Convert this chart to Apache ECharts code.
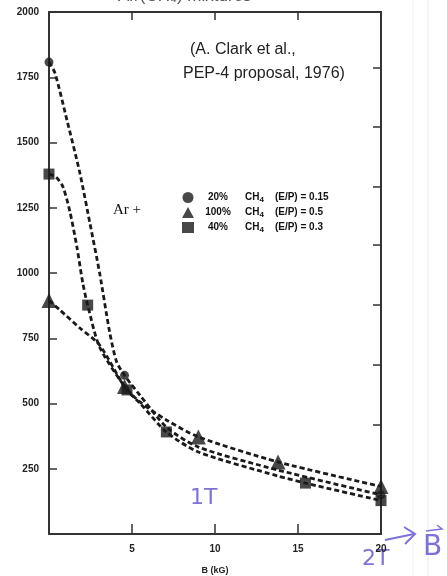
<!DOCTYPE html>
<html>
<head>
<meta charset="utf-8">
<script src="https://cdn.jsdelivr.net/npm/echarts@6/dist/echarts.min.js"></script>
<style>html,body{margin:0;padding:0;background:#fff}#c{width:447px;height:576px}</style>
</head>
<body>
<div id="c"></div>
<script>
// ---- data ----
const xTicks = [5, 10, 15, 20];
const yTickLabels = [250, 500, 750, 1000, 1250, 1500, 1750, 2000];
const rightTicks = [418, 648, 877, 1107, 1330, 1559, 1785];

const seriesNames = ['20% CH4', '100% CH4', '40% CH4'];
const epValues = ['0.15', '0.5', '0.3'];
const percents = ['20%', '100%', '40%'];

// measured marker positions
const circlePts = [[0, 1808], [4.55, 608], [20, 150]];
const trianglePts = [[0, 895], [4.55, 565], [9, 372], [13.8, 276], [20, 182]];
const squarePts = [[0, 1379], [2.33, 877], [4.7, 552], [7.07, 391], [15.45, 195], [20, 128]];

// points
const circleCurve = [[0, 1808], [0.36, 1766], [1.08, 1586], [1.86, 1383], [2.46, 1192], [3.05, 1000], [3.65, 775], [4.07, 660], [4.55, 608], [5.5, 530], [7.07, 410], [9, 333], [13.8, 245], [20, 150]];
const triangleCurve = [[0, 895], [0.66, 858], [1.86, 789], [3.05, 724], [4.55, 565], [5.5, 505], [7.07, 437], [9, 372], [13.8, 276], [20, 182]];
const squareCurve = [[0, 1379], [0.42, 1368], [0.84, 1330], [1.26, 1235], [1.68, 1100], [2.04, 960], [2.33, 877], [3.05, 716], [4.7, 552], [5.5, 500], [7.07, 391], [9, 314], [13.8, 222], [15.45, 195], [20, 128]];

const ink = '#1a1a1a';
const purple = '#7d72d9';

const chart = echarts.init(document.getElementById('c'));

function curve(name, data) {
  return {
    name: name, type: 'line', data: data, smooth: 0.25, symbol: 'none',
    lineStyle: { color: ink, width: 2.8, type: [5, 3] }, z: 3, clip: false,
    xAxisIndex: 0, yAxisIndex: 0
  };
}
function marks(name, data, symbol, size) {
  return {
    name: name, type: 'scatter', data: data, symbol: symbol, symbolSize: size,
    itemStyle: { color: ink }, z: 5, clip: false, xAxisIndex: 0, yAxisIndex: 0
  };
}

const frameLine = { show: true, onZero: false, lineStyle: { color: '#333', width: 2 } };
const tickStyle = { color: '#333', width: 1.5 };
const labelFont = { fontSize: 10, fontWeight: 'bold', color: '#222', fontFamily: 'Liberation Sans' };

chart.setOption({
  animation: false,
  backgroundColor: '#fff',
  grid: { left: 49, right: 66, top: 12, bottom: 42, outerBoundsMode: 'none', containLabel: false },
  xAxis: [{
    type: 'value', min: 0, max: 20, interval: 5,
    name: 'B (kG)', nameLocation: 'middle', nameGap: 32,
    nameTextStyle: { fontSize: 9, fontWeight: 'bold', color: '#222', fontFamily: 'Liberation Sans' },
    axisLine: frameLine,
    axisTick: { show: true, inside: true, length: 10, lineStyle: tickStyle, customValues: xTicks },
    axisLabel: Object.assign({ margin: 10, customValues: xTicks }, labelFont),
    splitLine: { show: false }
  }, {
    type: 'value', min: 0, max: 20, interval: 5, position: 'top',
    axisLine: frameLine,
    axisTick: { show: true, inside: true, length: 8, lineStyle: tickStyle, customValues: [5, 10, 15] },
    axisLabel: { show: false }, splitLine: { show: false }
  }],
  yAxis: [{
    type: 'value', min: 0, max: 2000, interval: 250,
    axisLine: frameLine,
    axisTick: { show: true, inside: true, length: 8, lineStyle: tickStyle, customValues: yTickLabels },
    axisLabel: Object.assign({ margin: 10, customValues: yTickLabels, formatter: function (v) { return String(v); } }, labelFont),
    splitLine: { show: false }
  }, {
    type: 'value', min: 0, max: 2000, position: 'right',
    axisLine: frameLine,
    axisTick: { show: true, inside: true, length: 8, lineStyle: tickStyle, customValues: rightTicks },
    axisLabel: { show: false }, splitLine: { show: false }
  }],
  legend: {
    data: seriesNames,
    orient: 'vertical', left: 177, top: 187, itemGap: 3,
    itemWidth: 12, itemHeight: 11,
    formatter: function (name) {
      const i = seriesNames.indexOf(name);
      return '{p|' + percents[i] + '}{c|CH}{s|4}{e|(E/P) = ' + epValues[i] + '}';
    },
    textStyle: {
      color: '#111', fontSize: 10, fontWeight: 'bold', fontFamily: 'Liberation Sans',
      rich: {
        p: { width: 38, align: 'right', fontSize: 10, fontWeight: 'bold', color: '#111', fontFamily: 'Liberation Sans' },
        c: { fontSize: 10, fontWeight: 'bold', padding: [0, 0, 0, 8], color: '#111', fontFamily: 'Liberation Sans' },
        s: { fontSize: 8, fontWeight: 'bold', padding: [5, 0, 0, 0], color: '#111', fontFamily: 'Liberation Sans' },
        e: { fontSize: 10, fontWeight: 'bold', padding: [0, 0, 0, 11], color: '#111', fontFamily: 'Liberation Sans' }
      }
    }
  },
  series: [
    curve('c20', circleCurve),
    curve('c100', triangleCurve),
    curve('c40', squareCurve),
    marks(seriesNames[0], circlePts, 'circle', 9),
    marks(seriesNames[1], trianglePts, 'triangle', 15),
    marks(seriesNames[2], squarePts, 'rect', 11)
  ],
  graphic: [
    // faint notebook-paper grid at the right edge
    { type: 'line', shape: { x1: 428, y1: 0, x2: 428, y2: 576 }, style: { stroke: '#ececec', lineWidth: 1 }, silent: true },
    { type: 'line', shape: { x1: 413, y1: 0, x2: 413, y2: 576 }, style: { stroke: '#f2f2f2', lineWidth: 1 }, silent: true },
    { type: 'text', left: 118, top: -12, style: { text: 'Ar/(CH\u2084) mixtures', font: '17px "Liberation Sans"', fill: '#555' }, silent: true },
    { type: 'text', left: 190, top: 42, style: { text: '(A. Clark et al.,', font: '16px "Liberation Sans"', fill: '#222' } },
    { type: 'text', left: 183, top: 66, style: { text: 'PEP-4 proposal, 1976)', font: '16px "Liberation Sans"', fill: '#222' } },
    { type: 'text', left: 113, top: 203, style: { text: 'Ar +', font: '15px "Liberation Serif"', fill: '#111' } },
    // handwritten annotations
    { type: 'text', left: 190, top: 487, style: { text: '1T', font: '22px "DejaVu Sans"', fill: purple } },
    { type: 'text', left: 362, top: 548, style: { text: '2T', font: '22px "DejaVu Sans"', fill: purple } },
    { type: 'text', left: 423, top: 534, style: { text: 'B', font: '28px "DejaVu Sans"', fill: purple } },
    { type: 'polyline', shape: { points: [[426, 531], [442, 529], [437, 525]] }, style: { stroke: purple, lineWidth: 1.5, fill: null } },
    { type: 'polyline', shape: { points: [[385, 540], [414, 534]] }, style: { stroke: purple, lineWidth: 2, fill: null } },
    { type: 'polyline', shape: { points: [[404, 527], [415, 534], [405, 544]] }, style: { stroke: purple, lineWidth: 2, fill: null } }
  ]
});
</script>
</body>
</html>
